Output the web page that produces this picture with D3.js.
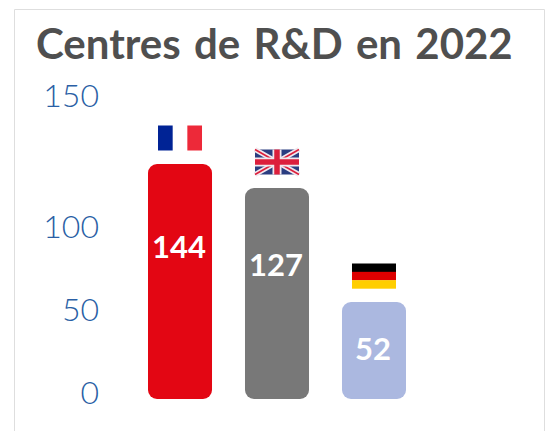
<!DOCTYPE html>
<html>
<head>
<meta charset="utf-8">
<style>
  html, body { margin: 0; background: #fff; }
  svg { display: block; }
</style>
<script src="https://cdn.jsdelivr.net/npm/d3@7"></script>
</head>
<body>
<div id="chart"></div>
<script>
const title = "Centres de R&D en 2022";
const countries = ["France", "Royaume-Uni", "Allemagne"];
const values = [144, 127, 52];
const barColors = ["#e30613", "#787878", "#abb8e0"];
const tickValues = [0, 50, 100, 150];

const width = 555, height = 431;

const svg = d3.select("#chart").append("svg")
  .attr("width", width)
  .attr("height", height);

// Card outline, open at the bottom
svg.append("path")
  .attr("d", "M14.5,431V9.5H544.5V431")
  .attr("fill", "none")
  .attr("stroke", "#dedede")
  .attr("stroke-width", 1);

svg.append("text")
  .attr("x", 36)
  .attr("y", 59)
  .attr("font-family", "Lato")
  .attr("font-weight", 700)
  .attr("font-size", 42)
  .attr("word-spacing", 3)
  .attr("fill", "#4f4f4f")
  .text(title);

// The source picture is not to a single linear scale, so the scales are piecewise
const x = d3.scaleBand().domain(countries).range([148, 406]).paddingInner(0.34).paddingOuter(0);
const y = d3.scaleLinear().domain([0, 52, 127, 144]).range([399, 302, 188, 164]);
const yTick = d3.scaleLinear().domain([0, 50, 100, 150]).range([393, 310, 227, 96]);
const yLabel = d3.scaleLinear().domain([52, 127, 144]).range([349, 265, 247]);

// Y tick labels
svg.append("g").selectAll("text")
  .data(tickValues)
  .join("text")
  .attr("x", 99)
  .attr("y", d => yTick(d))
  .attr("dy", "0.35em")
  .attr("text-anchor", "end")
  .attr("font-family", "Lato")
  .attr("font-weight", 300)
  .attr("font-size", 32)
  .attr("fill", "#2a5fa5")
  .text(d => d);

// Bars
svg.append("g").selectAll("rect")
  .data(values)
  .join("rect")
  .attr("x", (d, i) => x(countries[i]))
  .attr("y", d => y(d))
  .attr("width", x.bandwidth())
  .attr("height", d => y(0) - y(d))
  .attr("rx", 9)
  .attr("fill", (d, i) => barColors[i]);

// Value labels
svg.append("g").selectAll("text")
  .data(values)
  .join("text")
  .attr("x", (d, i) => x(countries[i]) + x.bandwidth() / 2 - 1)
  .attr("y", d => yLabel(d))
  .attr("dy", "0.35em")
  .attr("text-anchor", "middle")
  .attr("font-family", "Lato")
  .attr("font-weight", 700)
  .attr("font-size", 31)
  .attr("fill", "#fff")
  .text(d => d);

// Flags
const flagW = 44, flagH = 25;

function drawFrance(g) {
  g.append("rect").attr("width", flagW / 3).attr("height", flagH).attr("fill", "#002395");
  g.append("rect").attr("x", flagW * 2 / 3).attr("width", flagW / 3).attr("height", flagH).attr("fill", "#ed2939");
}

function drawUK(g) {
  g.append("rect").attr("width", flagW).attr("height", flagH).attr("fill", "#2a3d80");
  g.append("path").attr("d", `M0,0L${flagW},${flagH}M${flagW},0L0,${flagH}`)
    .attr("stroke", "#f0e8ee").attr("stroke-width", 5);
  g.append("path").attr("d", `M0,0L${flagW},${flagH}M${flagW},0L0,${flagH}`)
    .attr("stroke", "#dc1f3c").attr("stroke-width", 1.6);
  g.append("path").attr("d", `M${flagW / 2},0V${flagH}M0,${flagH / 2}H${flagW}`)
    .attr("stroke", "#f0e8ee").attr("stroke-width", 9);
  g.append("path").attr("d", `M${flagW / 2},0V${flagH}M0,${flagH / 2}H${flagW}`)
    .attr("stroke", "#dc1f3c").attr("stroke-width", 5.5);
}

function drawGermany(g) {
  ["#000000", "#dd0000", "#ffce00"].forEach((c, i) => {
    g.append("rect").attr("y", i * flagH / 3).attr("width", flagW).attr("height", flagH / 3 + 0.2).attr("fill", c);
  });
}

const flagDrawers = [drawFrance, drawUK, drawGermany];

svg.append("g").selectAll("g")
  .data(values)
  .join("g")
  .attr("transform", (d, i) => `translate(${x(countries[i]) + x.bandwidth() / 2 - flagW / 2},${y(d) - 13.5 - flagH})`)
  .each(function (d, i) { flagDrawers[i](d3.select(this)); });
</script>
</body>
</html>
